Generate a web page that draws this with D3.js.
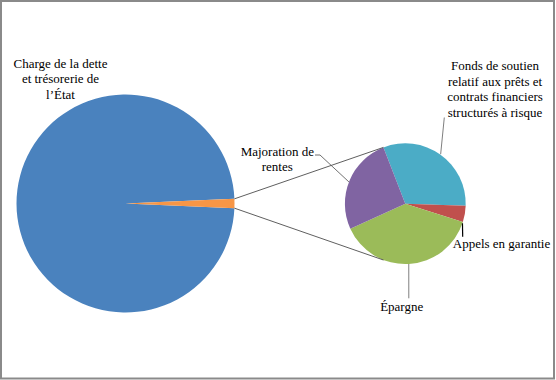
<!DOCTYPE html>
<html>
<head>
<meta charset="utf-8">
<script src="https://cdn.jsdelivr.net/npm/d3@7"></script>
<style>
  html, body { margin: 0; padding: 0; background: #fff; }
  svg { display: block; }
</style>
</head>
<body>
<svg id="chart" width="556" height="380"></svg>
<script>
// ---- data ----
const mainCategories = ["Charge de la dette et trésorerie de l’État", "Autres"];
const mainValues = [98.64, 1.36];
const subCategories = ["Fonds de soutien relatif aux prêts et contrats financiers structurés à risque",
                       "Appels en garantie", "Épargne", "Majoration de rentes"];
const subValues = [31.4, 4.4, 38.3, 25.9];
const mainLabelLines = [["Charge de la dette", "et trésorerie de", "l’État"]];
const subLabelLines = [
  ["Fonds de soutien", "relatif aux prêts et", "contrats financiers", "structurés à risque"],
  ["Appels en garantie"],
  ["Épargne"],
  ["Majoration de", "rentes"]
];
const mainColors = ["#4A82BE", "#F79646"];
const subColors = ["#4BACC6", "#C0504D", "#9BBB59", "#8064A2"];

// ---- layout ----
const FONT = "'Liberation Serif', 'Times New Roman', 'DejaVu Serif', serif";
const svg = d3.select("#chart");
const W = 556, H = 380;
svg.append("rect").attr("x", 1).attr("y", 1).attr("width", W - 3).attr("height", H - 2.5)
  .attr("fill", "#fff").attr("stroke", "#8a8a8a").attr("stroke-width", 2);

const big = { cx: 125.5, cy: 203.5, r: 109 };
const small = { cx: 405.3, cy: 203.7, r: 60.4 };
const deg = Math.PI / 180;

const otherFrac = mainValues[1] / d3.sum(mainValues);
const bigStart = Math.PI / 2 + Math.PI * otherFrac;
const bigPie = d3.pie().sort(null).startAngle(bigStart).endAngle(bigStart + 2 * Math.PI);
const bigArcs = bigPie(mainValues);
const bigArc = d3.arc().innerRadius(0).outerRadius(big.r);

const gBig = svg.append("g").attr("transform", `translate(${big.cx},${big.cy})`);
gBig.selectAll("path").data(bigArcs).join("path")
  .attr("d", bigArc).attr("fill", (d, i) => mainColors[i]);

const smallStart = -21.2 * deg;
const smallPie = d3.pie().sort(null).startAngle(smallStart).endAngle(smallStart + 2 * Math.PI);
const smallArcs = smallPie(subValues);
const smallArc = d3.arc().innerRadius(0).outerRadius(small.r);
const gSmall = svg.append("g").attr("transform", `translate(${small.cx},${small.cy})`);
gSmall.selectAll("path").data(smallArcs).join("path")
  .attr("d", smallArc).attr("fill", (d, i) => subColors[i]);

function pt(c, a, r) { return [c.cx + r * Math.sin(a), c.cy - r * Math.cos(a)]; }

// connector lines
const oth = bigArcs[1];
const p1 = pt(big, oth.startAngle, big.r), q1 = pt(small, smallStart, small.r);
const p2 = pt(big, oth.endAngle, big.r), q2 = pt(small, Math.PI - smallStart, small.r);
[[p1, q1], [p2, q2]].forEach(([a, b]) => {
  svg.append("line").attr("x1", a[0]).attr("y1", a[1]).attr("x2", b[0]).attr("y2", b[1])
    .attr("stroke", "#4d4d4d").attr("stroke-width", 0.9);
});

// labels
function label(lines, x, y0, lh) {
  const t = svg.append("text").attr("text-anchor", "middle")
    .attr("font-family", FONT).attr("font-size", 13).attr("fill", "#000");
  lines.forEach((s, i) => t.append("tspan").attr("x", x).attr("y", y0 + i * lh).text(s));
}
label(mainLabelLines[0], 60.5, 67.5, 15.5);
label(subLabelLines[0], 495, 70, 15.7);
label(subLabelLines[1], 501.5, 248.3, 15.5);
label(subLabelLines[2], 401.7, 310.7, 15.5);
label(subLabelLines[3], 277.3, 155.5, 15);

// leader lines
function leader(points, color, w) {
  svg.append("path").attr("d", d3.line()(points)).attr("fill", "none")
    .attr("stroke", color).attr("stroke-width", w);
}
leader([pt(small, 35.5 * deg, small.r + 0.5), [444.3, 117.5]], "#7f7f7f", 1);
leader([pt(small, 108.9 * deg, small.r), [462.7, 236.7]], "#000", 1.2);
leader([pt(small, 176.7 * deg, small.r), [408.8, 298.3]], "#7f7f7f", 1);
leader([[315, 155], [320, 155], pt(small, 291.1 * deg, small.r)], "#4d4d4d", 0.8);
</script>
</body>
</html>
